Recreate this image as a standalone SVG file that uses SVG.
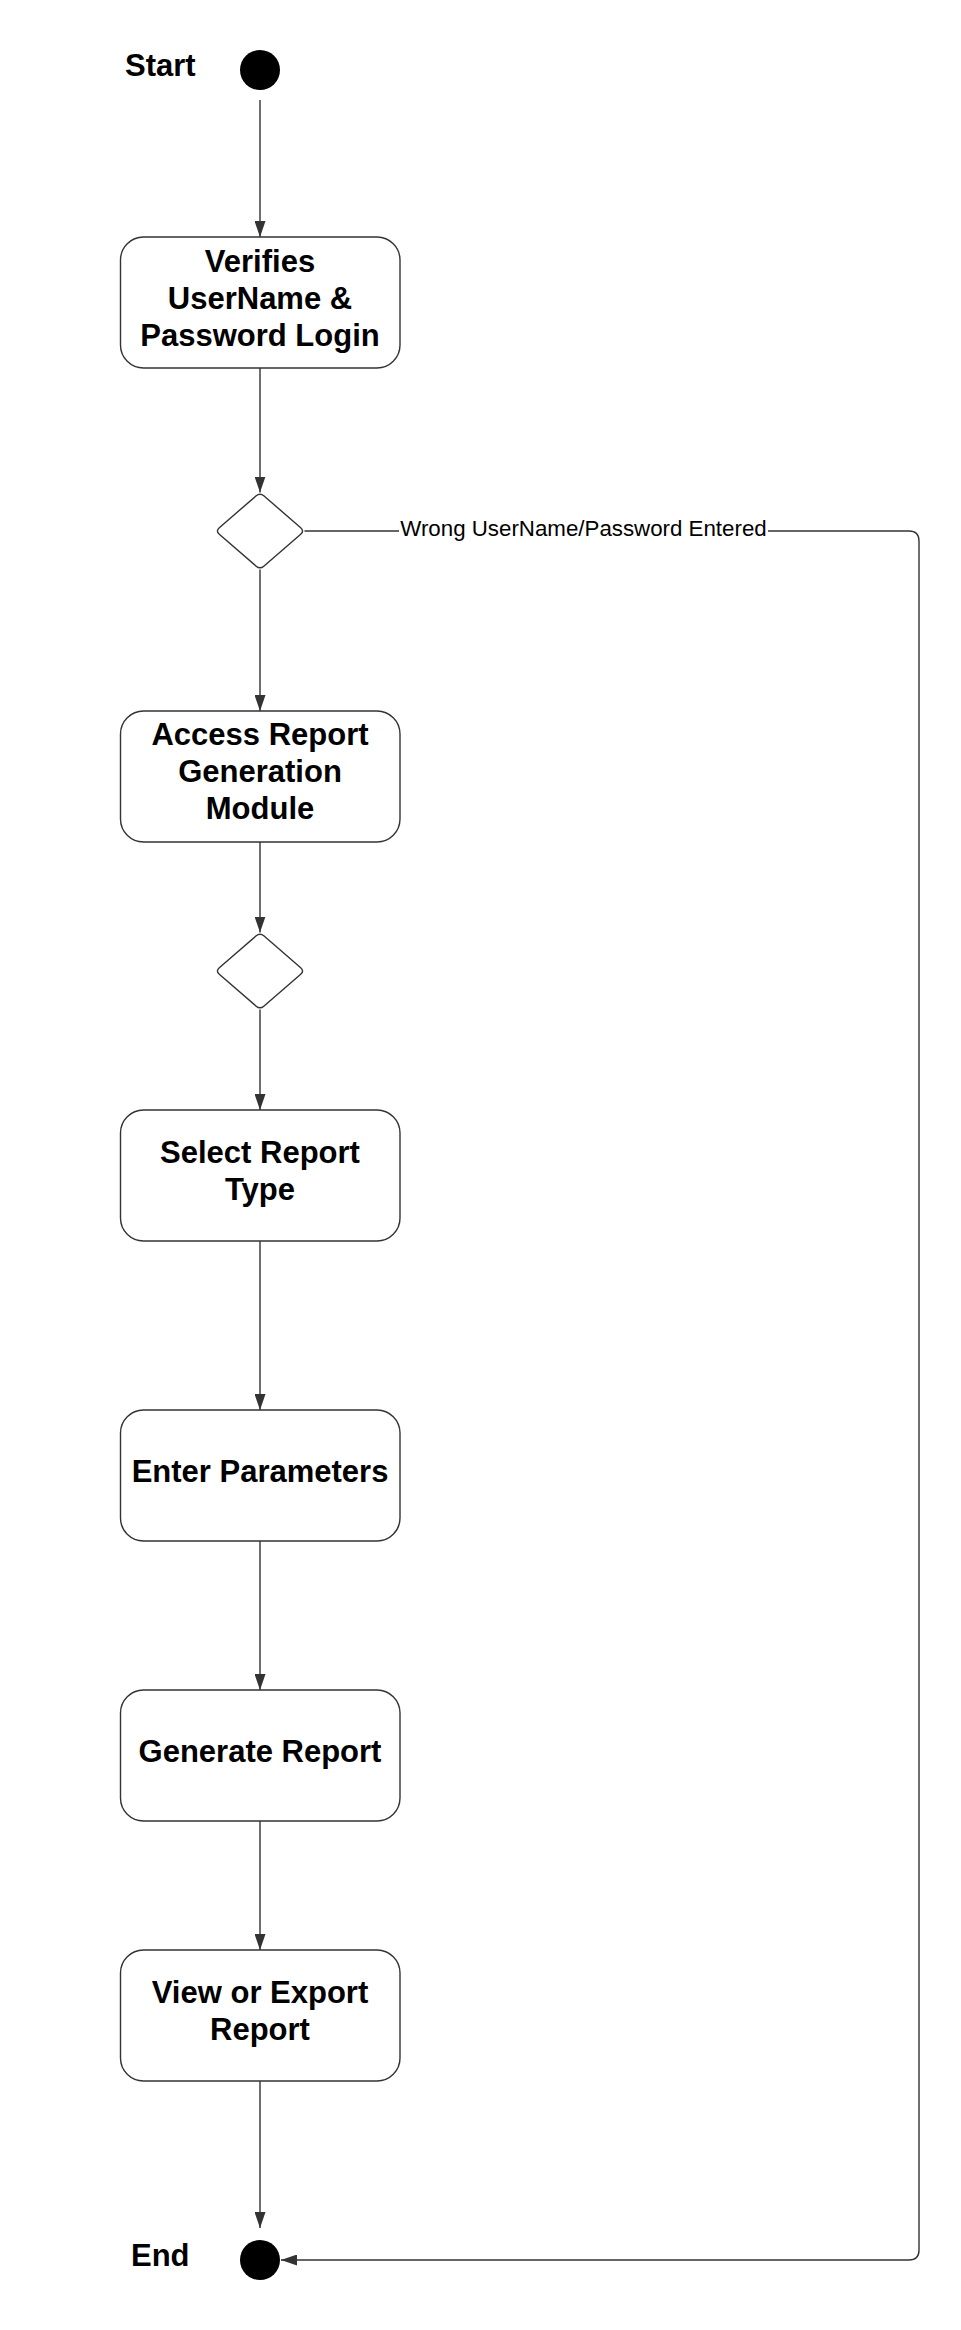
<svg xmlns="http://www.w3.org/2000/svg" width="961" height="2330" viewBox="0 0 961 2330">
<style>
.bg{fill:#ffffff}
.box{fill:#ffffff;stroke:#333333;stroke-width:1.4}
.dia{fill:#ffffff;stroke:#333333;stroke-width:1.4}
.dot{fill:#000000}
.t{font-family:"Liberation Sans",Arial,sans-serif;font-weight:bold;font-size:31px;fill:#000000;text-anchor:middle}
.tl{font-family:"Liberation Sans",Arial,sans-serif;font-weight:bold;font-size:31px;fill:#000000}
.lbl{font-family:"Liberation Sans",Arial,sans-serif;font-size:22.3px;fill:#000000;text-anchor:middle}
.c{fill:none;stroke:#333333;stroke-width:1.4}
</style>
<defs>
<marker id="arr" markerUnits="userSpaceOnUse" markerWidth="16" markerHeight="11" refX="16" refY="5.5" orient="auto">
<path d="M0,0 L16,5.5 L0,11 Z" fill="#333333"/>
</marker>
<path id="diamond" d="M 263.8,495.8 L 300.7,527.7 Q 304.5,531 300.7,534.3 L 263.8,566.2 Q 260,569.5 256.2,566.2 L 219.3,534.3 Q 215.5,531 219.3,527.7 L 256.2,495.8 Q 260,492.5 263.8,495.8 Z"/>
</defs>
<rect class="bg" x="0" y="0" width="961" height="2330"/>

<g id="connectors">
<path class="c" d="M260,100 L260,237" marker-end="url(#arr)"/>
<path class="c" d="M260,368 L260,492.5" marker-end="url(#arr)"/>
<path class="c" d="M260,569.5 L260,711" marker-end="url(#arr)"/>
<path class="c" d="M260,842 L260,932.5" marker-end="url(#arr)"/>
<path class="c" d="M260,1009.5 L260,1110" marker-end="url(#arr)"/>
<path class="c" d="M260,1241 L260,1410" marker-end="url(#arr)"/>
<path class="c" d="M260,1541 L260,1690" marker-end="url(#arr)"/>
<path class="c" d="M260,1821 L260,1950" marker-end="url(#arr)"/>
<path class="c" d="M260,2081 L260,2228" marker-end="url(#arr)"/>
<path class="c" d="M304.5,531 L909,531 Q919,531 919,541 L919,2250 Q919,2260 909,2260 L281,2260" marker-end="url(#arr)"/>
<rect class="bg" x="399" y="515" width="369" height="30"/>
<text class="lbl" x="583.5" y="536">Wrong UserName/Password Entered</text>
</g>

<g id="start">
<circle class="dot" cx="260" cy="70" r="20"/>
<text class="tl" x="125" y="76">Start</text>
</g>

<g id="verifies">
<rect class="box" x="120.5" y="237" width="279.5" height="131" rx="23" ry="23"/>
<text class="t" x="260" y="272">Verifies</text>
<text class="t" x="260" y="309">UserName &amp;</text>
<text class="t" x="260" y="346">Password Login</text>
</g>

<g id="decision1">
<use href="#diamond" class="dia"/>
</g>

<g id="access">
<rect class="box" x="120.5" y="711" width="279.5" height="131" rx="23" ry="23"/>
<text class="t" x="260" y="745">Access Report</text>
<text class="t" x="260" y="782">Generation</text>
<text class="t" x="260" y="819">Module</text>
</g>

<g id="decision2">
<use href="#diamond" class="dia" transform="translate(0,440)"/>
</g>

<g id="select">
<rect class="box" x="120.5" y="1110" width="279.5" height="131" rx="23" ry="23"/>
<text class="t" x="260" y="1163">Select Report</text>
<text class="t" x="260" y="1200">Type</text>
</g>

<g id="enter">
<rect class="box" x="120.5" y="1410" width="279.5" height="131" rx="23" ry="23"/>
<text class="t" x="260" y="1482">Enter Parameters</text>
</g>

<g id="generate">
<rect class="box" x="120.5" y="1690" width="279.5" height="131" rx="23" ry="23"/>
<text class="t" x="260" y="1762">Generate Report</text>
</g>

<g id="view">
<rect class="box" x="120.5" y="1950" width="279.5" height="131" rx="23" ry="23"/>
<text class="t" x="260" y="2003">View or Export</text>
<text class="t" x="260" y="2040">Report</text>
</g>

<g id="end">
<circle class="dot" cx="260" cy="2260" r="20"/>
<text class="tl" x="131" y="2266">End</text>
</g>
</svg>
